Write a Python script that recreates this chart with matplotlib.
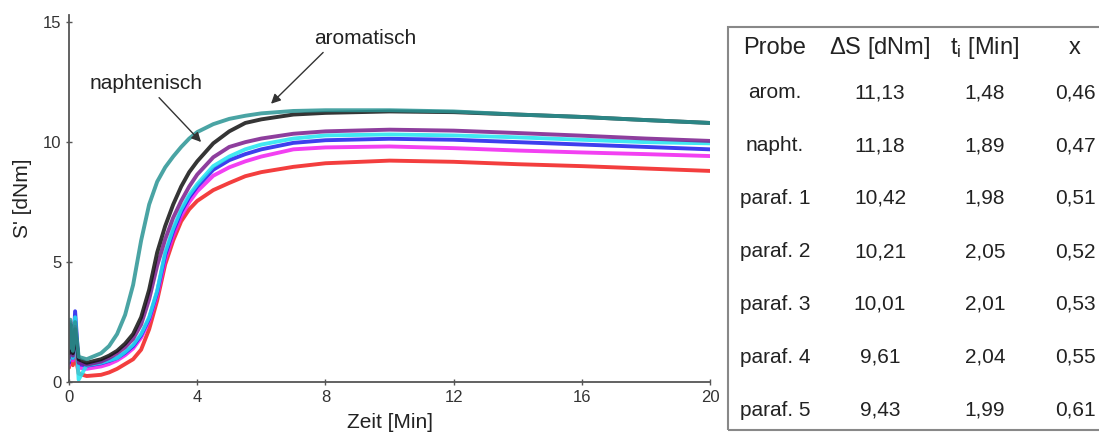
import matplotlib
matplotlib.use('Agg')
import matplotlib.pyplot as plt
from matplotlib.patches import Rectangle

plt.rcParams['font.family'] = ['Liberation Sans', 'DejaVu Sans']
plt.rcParams['mathtext.fontset'] = 'custom'
plt.rcParams['mathtext.rm'] = 'Liberation Sans'

# time axis [Min]
zeit = [0, 0.04, 0.12, 0.19, 0.3, 0.55, 1, 1.25, 1.5, 1.75, 2, 2.25, 2.5, 2.75, 3, 3.25,
        3.5, 3.75, 4, 4.5, 5, 5.5, 6, 7, 8, 10, 12, 14, 16, 18, 20]

arom = [1.4, 2.6, 1.3, 2.5, 1.05, 0.95, 1.2, 1.5, 2.0, 2.8, 4.05, 5.9, 7.4, 8.35, 8.95, 9.4,
        9.8, 10.15, 10.42, 10.75, 10.97, 11.1, 11.2, 11.3, 11.33, 11.33, 11.28, 11.15, 11.05, 10.92, 10.8]
napht = [1.2, 2.4, 1.2, 2.2, 0.95, 0.8, 0.95, 1.1, 1.3, 1.6, 2.0, 2.7, 3.85, 5.4, 6.5, 7.4,
         8.15, 8.75, 9.2, 9.95, 10.45, 10.8, 10.95, 11.15, 11.22, 11.28, 11.25, 11.15, 11.05, 10.92, 10.8]
paraf1 = [1.0, 2.5, 1.1, 2.3, 0.8, 0.72, 0.85, 1.0, 1.2, 1.45, 1.8, 2.4, 3.45, 4.85, 5.95, 6.85,
          7.55, 8.15, 8.65, 9.37, 9.8, 10.0, 10.15, 10.35, 10.45, 10.52, 10.48, 10.38, 10.27, 10.15, 10.05]
paraf2 = [0.9, 2.4, 1.0, 2.7, 0.1, 0.7, 0.8, 0.9, 1.0, 1.25, 1.55, 2.0, 2.7, 3.8, 5.4, 6.4,
          7.2, 7.8, 8.25, 9.0, 9.4, 9.7, 9.9, 10.15, 10.28, 10.32, 10.28, 10.2, 10.1, 10.0, 9.95]
paraf3 = [0.8, 2.3, 1.0, 2.95, 0.75, 0.68, 0.78, 0.88, 1.0, 1.22, 1.5, 1.95, 2.65, 3.75, 5.3, 6.3,
          7.1, 7.7, 8.15, 8.85, 9.25, 9.5, 9.7, 9.97, 10.08, 10.14, 10.1, 10.0, 9.9, 9.8, 9.7]
paraf4 = [0.7, 2.2, 0.9, 2.4, 0.6, 0.55, 0.65, 0.75, 0.9, 1.12, 1.4, 1.85, 2.55, 3.6, 5.1, 6.1,
          6.9, 7.5, 7.95, 8.6, 8.95, 9.2, 9.4, 9.7, 9.78, 9.82, 9.75, 9.65, 9.57, 9.5, 9.42]
paraf5 = [0.6, 1.8, 0.7, 1.2, 0.35, 0.25, 0.3, 0.4, 0.55, 0.75, 0.95, 1.35, 2.2, 3.4, 4.9, 5.9,
          6.7, 7.2, 7.55, 8.0, 8.3, 8.58, 8.75, 8.97, 9.12, 9.23, 9.18, 9.08, 9.0, 8.9, 8.8]

series = [paraf5, paraf4, paraf3, paraf2, paraf1, napht, arom]
colors = ['#f21c1c', '#f01ef0', '#1c1ceb', '#20e4f0', '#7a1c8c', '#111111', '#2a9494']

# table content
proben = ['arom.', 'napht.', 'paraf. 1', 'paraf. 2', 'paraf. 3', 'paraf. 4', 'paraf. 5']
delta_s = ['11,13', '11,18', '10,42', '10,21', '10,01', '9,61', '9,43']
t_i = ['1,48', '1,89', '1,98', '2,05', '2,01', '2,04', '1,99']
x_val = ['0,46', '0,47', '0,51', '0,52', '0,53', '0,55', '0,61']
header = ['Probe', r'$\Delta$S [dNm]', r'$\mathregular{t_i}$ [Min]', 'x']

fig = plt.figure(figsize=(10.99, 4.44), dpi=100)
ax = fig.add_axes([0.0628, 0.1396, 0.5833, 0.8266])

for y, c in zip(series, colors):
    ax.plot(zeit, y, color=c, lw=2.8, alpha=0.85, solid_capstyle='round',
            solid_joinstyle='round')

ax.set_xlim(0, 20)
ax.set_ylim(0, 15.3)
ax.set_xticks([0, 4, 8, 12, 16, 20])
ax.set_yticks([0, 5, 10, 15])
for s in ['top', 'right']:
    ax.spines[s].set_visible(False)
for s in ['left', 'bottom']:
    ax.spines[s].set_color('#555555')
    ax.spines[s].set_linewidth(1.3)
ax.tick_params(direction='inout', length=5, width=1, color='#555555',
               labelsize=12, labelcolor='#333333', pad=3)
ax.set_xlabel('Zeit [Min]', fontsize=15, color='#222222', labelpad=6)
ax.set_ylabel("S' [dNm]", fontsize=15, color='#222222', labelpad=8)

arrow = dict(arrowstyle='-|>', color='#333333', lw=1, mutation_scale=14)
ax.text(9.25, 14.3, 'aromatisch', ha='center', va='center', fontsize=15, color='#222222')
ax.annotate('', xy=(6.24, 11.52), xytext=(7.99, 13.82), arrowprops=arrow)
ax.text(2.39, 12.45, 'naphtenisch', ha='center', va='center', fontsize=15, color='#222222')
ax.annotate('', xy=(4.18, 9.92), xytext=(2.75, 11.94), arrowprops=arrow)

# table box
W, H = 1099.0, 444.0
fig.patches.append(Rectangle((728 / W, 1 - 430 / H), 400 / W, 403 / H, transform=fig.transFigure,
                             fill=False, edgecolor='#888888', lw=1.5))
col_x = [775, 880, 985, 1075]
row_y = [92.7, 145.7, 198, 251.7, 304, 357, 410]
for cx, h in zip(col_x, header):
    fig.text(cx / W, 1 - 48 / H, h, ha='center', va='center', fontsize=17, color='#222222')
for i, yy in enumerate(row_y):
    vals = [proben[i], delta_s[i], t_i[i], x_val[i]]
    for cx, v in zip(col_x, vals):
        fig.text(cx / W, 1 - yy / H, v, ha='center', va='center', fontsize=15, color='#222222')

fig.savefig('out.png', dpi=100)
